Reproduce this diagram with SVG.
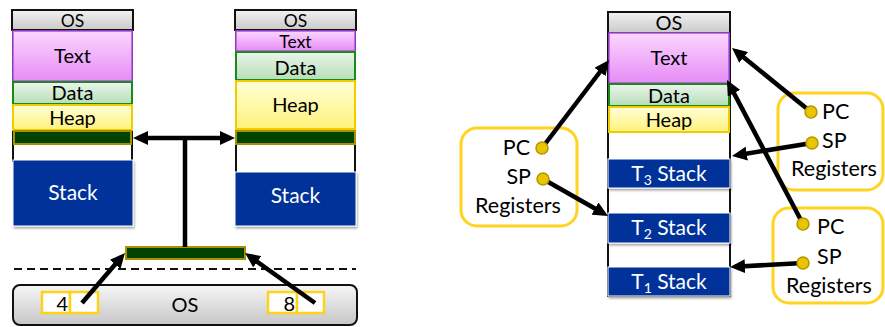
<svg xmlns="http://www.w3.org/2000/svg" width="885" height="327" viewBox="0 0 885 327">
  <defs>
    <linearGradient id="gOS" x1="0" y1="0" x2="0" y2="1">
      <stop offset="0" stop-color="#f2f2f2"/>
      <stop offset="1" stop-color="#c9c9c9"/>
    </linearGradient>
    <linearGradient id="gText" x1="0" y1="0" x2="0" y2="1">
      <stop offset="0" stop-color="#fbd6ff"/>
      <stop offset="1" stop-color="#e68cf6"/>
    </linearGradient>
    <linearGradient id="gData" x1="0" y1="0" x2="0" y2="1">
      <stop offset="0" stop-color="#eaf5ea"/>
      <stop offset="1" stop-color="#b6deb8"/>
    </linearGradient>
    <linearGradient id="gHeap" x1="0" y1="0" x2="0" y2="1">
      <stop offset="0" stop-color="#ffffd8"/>
      <stop offset="1" stop-color="#fff27a"/>
    </linearGradient>
    <linearGradient id="gBar" x1="0" y1="0" x2="0" y2="1">
      <stop offset="0" stop-color="#f6f6f6"/>
      <stop offset="1" stop-color="#c6c6c6"/>
    </linearGradient>
    <filter id="sh" x="-10%" y="-10%" width="130%" height="140%">
      <feDropShadow dx="1" dy="2" stdDeviation="1.2" flood-color="#000" flood-opacity="0.35"/>
    </filter>
    <marker id="ah" viewBox="0 0 15 14" markerUnits="userSpaceOnUse" markerWidth="15" markerHeight="14" refX="10" refY="7" orient="auto-start-reverse">
      <path d="M0,0 L15,7 L0,14 z" fill="#000"/>
    </marker>
    <style>
      text { font-family: Lato, "Open Sans", "Liberation Sans", sans-serif; font-size: 20px; fill: #000; }
      .c { text-anchor: middle; }
      .sm { font-size: 17.5px; }
      .rg { font-size: 21.5px; }
      .w { fill: #fff; font-size: 21px; }
      .os { fill: url(#gOS); stroke: #111; stroke-width: 2; }
      .tx { fill: url(#gText); stroke: #b24fe6; stroke-width: 1.5; }
      .da { fill: url(#gData); stroke: #1b8a1b; stroke-width: 2; }
      .hp { fill: url(#gHeap); stroke: #f2cc00; stroke-width: 2; }
      .gb { fill: #004200; stroke: #a89200; stroke-width: 2; }
      .st { fill: #003399; stroke: #fff; stroke-width: 1; filter: url(#sh); }
      .side { stroke: #111; stroke-width: 2; fill: none; }
      .reg { fill: #fff; stroke: #ffd31f; stroke-width: 3; }
      .dot { fill: #e9c400; stroke: #b39600; stroke-width: 1.5; }
      .cell { fill: #fff; stroke: #ffd21a; stroke-width: 2.5; }
      .ln { stroke: #000; stroke-width: 4.5; fill: none; }
      .arr { stroke: #000; stroke-width: 4.5; fill: none; marker-end: url(#ah); }
    </style>
  </defs>

  <!-- process A address space -->
  <g id="procA">
    <line class="side" x1="13" y1="30" x2="13" y2="162"/>
    <line class="side" x1="132" y1="30" x2="132" y2="162"/>
    <rect class="os" x="12" y="10" width="121" height="20"/>
    <text class="c sm" x="72.5" y="27">OS</text>
    <rect class="tx" x="13" y="31" width="119" height="50"/>
    <text class="c" x="72.5" y="63">Text</text>
    <rect class="da" x="13" y="82" width="119" height="22"/>
    <text class="c" x="72.5" y="100">Data</text>
    <rect class="hp" x="13" y="105" width="119" height="25"/>
    <text class="c" x="72.5" y="125">Heap</text>
    <rect class="gb" x="14" y="131" width="117" height="13"/>
    <rect class="st" x="13" y="160" width="120" height="66"/>
    <text class="c w" x="73" y="200">Stack</text>
  </g>

  <!-- process B address space -->
  <g id="procB">
    <line class="side" x1="236" y1="30" x2="236" y2="174"/>
    <line class="side" x1="355" y1="30" x2="355" y2="174"/>
    <rect class="os" x="235" y="10" width="121" height="20"/>
    <text class="c sm" x="295.5" y="27">OS</text>
    <rect class="tx" x="236" y="31" width="119" height="20"/>
    <text class="c sm" x="295.5" y="48">Text</text>
    <rect class="da" x="236" y="52" width="119" height="28"/>
    <text class="c" x="295.5" y="75">Data</text>
    <rect class="hp" x="236" y="81" width="119" height="48"/>
    <text class="c" x="295.5" y="112">Heap</text>
    <rect class="gb" x="236" y="131" width="119" height="13"/>
    <rect class="st" x="235" y="172" width="121" height="54"/>
    <text class="c w" x="295.5" y="203">Stack</text>
  </g>

  <!-- shared region in kernel -->
  <g id="shared">
    <rect class="gb" x="126" y="247" width="119" height="12"/>
  </g>

  <!-- user / kernel boundary -->
  <line x1="14" y1="269" x2="356" y2="269" stroke="#111" stroke-width="2" stroke-dasharray="8 5"/>

  <!-- kernel -->
  <g id="kernel">
    <rect x="13" y="285" width="344" height="40" rx="7" fill="url(#gBar)" stroke="#111" stroke-width="2"/>
    <text class="c" x="185" y="312">OS</text>
    <rect class="cell" x="42" y="292" width="28" height="21"/>
    <rect class="cell" x="70" y="292" width="28" height="21"/>
    <text x="68" y="311" text-anchor="end">4</text>
    <rect class="cell" x="268" y="292" width="29" height="21"/>
    <rect class="cell" x="297" y="292" width="27" height="21"/>
    <text x="295" y="311" text-anchor="end">8</text>
  </g>

  <!-- multithreaded address space -->
  <g id="procMT">
    <rect x="608" y="12" width="122" height="284" fill="#fff" stroke="#111" stroke-width="2"/>
    <rect class="os" x="608" y="12" width="122" height="21"/>
    <text class="c" x="669" y="30">OS</text>
    <rect class="tx" x="609" y="33" width="120" height="50"/>
    <text class="c" x="669" y="65">Text</text>
    <rect class="da" x="609" y="84" width="120" height="22"/>
    <text class="c" x="669" y="103">Data</text>
    <rect class="hp" x="609" y="107" width="120" height="25"/>
    <text class="c" x="669" y="127">Heap</text>
    <rect class="st" x="608" y="159" width="122" height="29"/>
    <text class="c w" x="669" y="181">T<tspan font-size="14" dy="4">3</tspan><tspan dy="-4"> Stack</tspan></text>
    <rect class="st" x="608" y="213" width="122" height="30"/>
    <text class="c w" x="669" y="235">T<tspan font-size="14" dy="4">2</tspan><tspan dy="-4"> Stack</tspan></text>
    <rect class="st" x="608" y="267" width="122" height="29"/>
    <text class="c w" x="669" y="289">T<tspan font-size="14" dy="4">1</tspan><tspan dy="-4"> Stack</tspan></text>
  </g>

  <!-- register sets -->
  <g id="regsL">
    <rect class="reg" x="461" y="128" width="116" height="98" rx="16"/>
    <text class="rg" x="530" y="155" text-anchor="end">PC</text>
    <text class="rg" x="531" y="184" text-anchor="end">SP</text>
    <text class="c rg" x="518" y="213">Registers</text>
  </g>
  <g id="regsR1">
    <rect class="reg" x="778" y="93" width="105" height="97" rx="16"/>
    <text class="rg" x="822" y="119">PC</text>
    <text class="rg" x="822" y="148">SP</text>
    <text class="c rg" x="834" y="176">Registers</text>
  </g>
  <g id="regsR2">
    <rect class="reg" x="773" y="208" width="110" height="95" rx="16"/>
    <text class="rg" x="817" y="234">PC</text>
    <text class="rg" x="817" y="264">SP</text>
    <text class="c rg" x="829" y="293">Registers</text>
  </g>

  <!-- connectors -->
  <g id="connectors">
    <line class="ln" x1="138" y1="138" x2="230" y2="138" marker-start="url(#ah)" marker-end="url(#ah)"/>
    <line class="ln" x1="185" y1="138" x2="185" y2="247"/>
    <line class="arr" x1="82" y1="303" x2="121.7" y2="256.8"/>
    <line class="arr" x1="315" y1="303" x2="249.1" y2="255.9"/>
    <line class="arr" x1="542" y1="148" x2="606" y2="64"/>
    <line class="arr" x1="543" y1="179" x2="603.7" y2="213.5"/>
    <line class="arr" x1="811" y1="112" x2="735.9" y2="51.1"/>
    <line class="arr" x1="812" y1="143" x2="736.9" y2="155.2"/>
    <line class="arr" x1="803" y1="224" x2="729.3" y2="84.4"/>
    <line class="arr" x1="803" y1="263" x2="735" y2="266.7"/>
  </g>

  <!-- register pointer dots -->
  <g id="dots">
    <circle class="dot" cx="542" cy="148" r="6"/>
    <circle class="dot" cx="543" cy="179" r="6"/>
    <circle class="dot" cx="811" cy="112" r="6"/>
    <circle class="dot" cx="812" cy="143" r="6"/>
    <circle class="dot" cx="803" cy="224" r="6"/>
    <circle class="dot" cx="803" cy="263" r="6"/>
  </g>
</svg>
